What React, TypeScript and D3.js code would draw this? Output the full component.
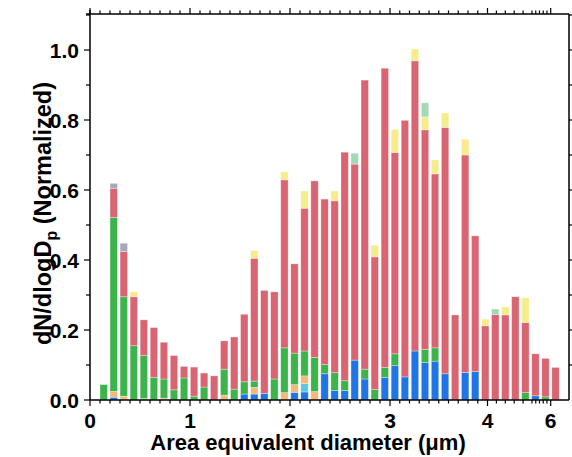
import React from "react";
import * as d3 from "d3";

// ---- data ----
const bins = [
  "0.15","0.25","0.35","0.45","0.55","0.65","0.75","0.85","0.95","1.05",
  "1.15","1.25","1.35","1.45","1.55","1.65","1.75","1.85","1.95","2.05",
  "2.15","2.25","2.35","2.45","2.55","2.65","2.75","2.85","2.95","3.05",
  "3.15","3.25","3.35","3.45","3.55","3.65","3.75","3.85","3.95","4.2",
  "4.4","4.6","4.8","5.2","5.6","6.1"
];
const blue = [0,0.008,0,0,0,0,0,0,0,0, 0,0,0,0,0.017,0.017,0.019,0,0,0.022, 0.023,0,0.075,0.027,0.027,0.114,0.060,0,0.064,0.098, 0.066,0.140,0.107,0.111,0.075,0,0.079,0.081,0,0, 0,0,0,0.012,0,0];
const cyan = [0,0,0,0,0,0,0,0,0,0, 0,0,0,0,0,0,0,0,0,0, 0.024,0,0,0,0,0,0,0,0,0, 0,0,0,0,0,0,0,0,0,0, 0,0,0,0,0,0];
const orange = [0,0.017,0.011,0,0.004,0,0.005,0,0,0, 0,0,0.014,0,0,0.019,0,0,0.021,0.022, 0.022,0.024,0,0,0,0,0,0,0,0, 0,0,0,0,0,0,0,0,0,0, 0,0,0,0,0,0];
const green = [0.044,0.497,0.284,0.155,0.123,0.065,0.055,0.029,0.063,0.011, 0.037,0,0.074,0.031,0.035,0.018,0,0.060,0.128,0.090, 0.071,0.098,0.026,0.051,0.028,0,0.028,0.030,0.029,0.034, 0,0,0.038,0.038,0,0,0,0,0,0, 0,0,0.021,0,0.009,0];
const red = [0,0.083,0.129,0.140,0.102,0.142,0.105,0.098,0.033,0.083, 0.040,0.069,0.081,0.149,0.193,0.351,0.294,0.249,0.480,0.255, 0.408,0.504,0.473,0.491,0.653,0.560,0.826,0.379,0.855,0.575, 0.733,0.829,0.627,0.497,0.704,0.243,0.621,0.388,0.212,0.244, 0.243,0.295,0.200,0.120,0.110,0.093];
const yellow = [0,0,0,0.014,0,0,0,0,0,0, 0,0,0,0,0,0.022,0,0,0.023,0, 0.049,0,0,0.028,0,0,0,0.033,0,0.066, 0,0.034,0.037,0.040,0.041,0,0.045,0,0.019,0, 0.023,0,0.071,0,0,0];
const mint = [0,0,0,0,0,0,0,0,0,0, 0,0,0,0,0,0,0,0,0,0, 0,0,0,0,0,0.031,0,0,0,0, 0,0,0.040,0,0,0,0,0,0,0.016, 0,0,0,0,0,0];
const grey = [0,0.014,0.024,0,0,0,0,0,0,0, 0,0,0,0,0,0,0,0,0,0, 0,0,0,0,0,0,0,0,0,0, 0,0,0,0,0,0,0,0,0,0, 0,0,0,0,0,0];

const seriesKeys = ["blue","cyan","orange","green","red","yellow","mint","grey"];
const seriesColors = ["#2075e6","#5cc6de","#f5b879","#3db34b","#da6572","#f6ec8c","#a2d9b5","#a7a9b8"];

const xMajorTicks = [0,1,2,3,4,6];
const xMinorTicks = [0.1,0.2,0.3,0.4,0.5,0.6,0.7,0.8,0.9,1.1,1.2,1.3,1.4,1.5,1.6,1.7,1.8,1.9,2.1,2.2,2.3,2.4,2.5,2.6,2.7,2.8,2.9,3.1,3.2,3.3,3.4,3.5,3.6,3.7,3.8,3.9,4.2,4.4,4.6,4.8,5,5.2,5.4,5.6,5.8];
const yMajorTicks = [0,0.2,0.4,0.6,0.8,1.0];
const yMinorTicks = [0.1,0.3,0.5,0.7,0.9,1.1];
const yRightTicks = [0.1,0.2,0.3,0.4,0.5,0.6,0.7,0.8,0.9,1.0,1.1];

// ---- layout ----
const W = 572, H = 457;
const L = 90, R = 569, T = 14, B = 400;

export default function App() {
  const table = bins.map((b, i) => ({
    bin: b, blue: blue[i], cyan: cyan[i], orange: orange[i], green: green[i],
    red: red[i], yellow: yellow[i], mint: mint[i], grey: grey[i],
  }));
  const stacked = d3.stack<any>().keys(seriesKeys)(table);

  const x = d3.scaleLinear().domain([0, 3, 4, 5, 6]).range([L, 390, 487.5, 532, 550.7]);
  const step = 10.04;
  const band = d3.scaleBand<string>().domain(bins)
    .range([100 - 0.13 * step, 100 - 0.13 * step + bins.length * step])
    .paddingInner(0.26).paddingOuter(0.13);
  const y = d3.scaleLinear().domain([0, 1.1]).range([B, T + 1]);

  const font = "'Liberation Sans', Arial, sans-serif";
  const axisColor = "#000";

  return (
    <svg width={W} height={H} style={{ position: "absolute", left: 0, top: 0 }}>
      <rect x={0} y={0} width={W} height={H} fill="#fff" />
      {stacked.map((s, si) => (
        <g key={seriesKeys[si]} fill={seriesColors[si]}>
          {s.map((d, i) => {
            const h = y(d[0]) - y(d[1]);
            if (h <= 0.01) return null;
            return (
              <rect key={i} x={band(bins[i])} width={band.bandwidth()} y={y(d[1])} height={h}
                stroke="rgba(255,255,255,0.45)" strokeWidth={0.7} />
            );
          })}
        </g>
      ))}
      {/* frame */}
      <g stroke={axisColor} strokeWidth={1.5} fill="none">
        <line x1={L} x2={R} y1={B} y2={B} />
        <line x1={L - 4} x2={R} y1={T} y2={T} />
        <line x1={L} x2={L} y1={T - 4} y2={B} />
        <line x1={R} x2={R} y1={T} y2={B} />
      </g>
      {/* x ticks */}
      <g stroke={axisColor} strokeWidth={1.2}>
        {xMajorTicks.map((t) => (
          <g key={"xm" + t}>
            <line x1={x(t)} x2={x(t)} y1={B} y2={B + 6} />
            <line x1={x(t)} x2={x(t)} y1={T} y2={T - 6} />
          </g>
        ))}
        {xMinorTicks.map((t) => (
          <g key={"xn" + t}>
            <line x1={x(t)} x2={x(t)} y1={B} y2={B + 3.5} />
            <line x1={x(t)} x2={x(t)} y1={T} y2={T - 3.5} />
          </g>
        ))}
        {yMajorTicks.map((t) => (
          <line key={"ym" + t} x1={L} x2={L - 6} y1={y(t)} y2={y(t)} />
        ))}
        {yMinorTicks.map((t) => (
          <line key={"yn" + t} x1={L} x2={L - 4} y1={y(t)} y2={y(t)} />
        ))}
        {yRightTicks.map((t) => (
          <line key={"yr" + t} x1={R} x2={R + 4} y1={y(t)} y2={y(t)} />
        ))}
      </g>
      {/* labels */}
      <g fontFamily={font} fontWeight="bold" fontSize={21} fill="#000">
        {xMajorTicks.map((t) => (
          <text key={"xl" + t} x={x(t)} y={428} textAnchor="middle">{t}</text>
        ))}
        {yMajorTicks.map((t) => (
          <text key={"yl" + t} x={L - 11} y={y(t) + 7.5} textAnchor="end">{t.toFixed(1)}</text>
        ))}
        <text x={308} y={450} textAnchor="middle" fontSize={22}>Area equivalent diameter (μm)</text>
        <text transform={`translate(51,345) rotate(-90)`} textAnchor="start" fontSize={23.5}>
          dN/dlogD<tspan fontSize={16} dy={6}>p</tspan><tspan dy={-6}> (Normalized)</tspan>
        </text>
      </g>
    </svg>
  );
}
